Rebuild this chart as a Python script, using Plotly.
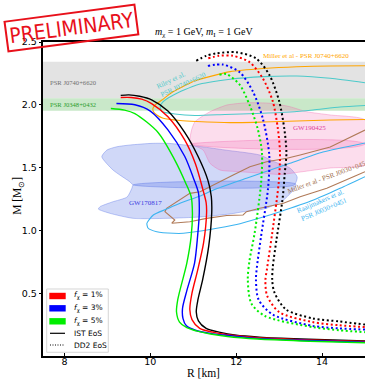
import plotly.graph_objects as go

# ---------------- data ----------------
R_RANGE = [7.5, 15.0]
M_RANGE = [0.0, 2.5]
x_ticks = [8, 10, 12, 14]
y_ticks = [0.5, 1.0, 1.5, 2.0, 2.5]
y_tick_labels = ["0.5", "1.0", "1.5", "2.0", "2.5"]

# IST EoS (solid), f_chi = 0 (black), 1 %, 3 %, 5 %
ist_f0_R = [9.31, 9.50, 9.75, 10.03, 10.41, 10.80, 11.11, 11.34, 11.42, 11.43, 11.36, 11.22, 11.11, 11.07, 11.12, 11.30, 11.60, 12.00, 12.54, 13.50, 15.00]
ist_f0_M = [2.075, 2.079, 2.068, 2.040, 1.950, 1.780, 1.590, 1.400, 1.270, 1.140, 0.875, 0.610, 0.450, 0.350, 0.280, 0.220, 0.190, 0.165, 0.150, 0.135, 0.120]
ist_f1_R = [9.31, 9.55, 9.80, 10.03, 10.41, 10.80, 11.05, 11.22, 11.30, 11.31, 11.24, 11.10, 10.97, 10.92, 10.97, 11.15, 11.45, 11.90, 12.50, 13.50, 15.00]
ist_f1_M = [2.058, 2.058, 2.045, 2.010, 1.905, 1.720, 1.530, 1.330, 1.220, 1.140, 0.900, 0.680, 0.500, 0.370, 0.290, 0.220, 0.190, 0.165, 0.145, 0.130, 0.115]
ist_f3_R = [9.21, 9.64, 10.00, 10.41, 10.80, 11.00, 11.12, 11.14, 11.10, 11.03, 10.85, 10.75, 10.76, 10.84, 11.05, 11.40, 11.90, 12.50, 13.50, 15.00]
ist_f3_M = [2.010, 2.000, 1.950, 1.800, 1.590, 1.420, 1.300, 1.140, 0.950, 0.740, 0.520, 0.380, 0.300, 0.240, 0.205, 0.180, 0.160, 0.140, 0.125, 0.110]
ist_f5_R = [9.08, 9.40, 9.64, 10.18, 10.57, 10.82, 10.95, 10.98, 10.95, 10.85, 10.64, 10.61, 10.68, 10.85, 11.07, 11.40, 11.80, 12.50, 13.50, 15.00]
ist_f5_M = [1.970, 1.958, 1.930, 1.780, 1.560, 1.380, 1.270, 1.140, 0.950, 0.740, 0.450, 0.350, 0.270, 0.225, 0.200, 0.175, 0.155, 0.135, 0.120, 0.105]

# DD2 EoS (dotted)
dd2_f0_R = [11.07, 11.30, 11.54, 12.00, 12.46, 12.77, 13.00, 13.12, 13.17, 13.13, 13.08, 12.94, 12.85, 12.84, 12.89, 13.16, 13.78, 14.40, 15.00]
dd2_f0_M = [2.350, 2.390, 2.410, 2.418, 2.370, 2.240, 2.030, 1.810, 1.620, 1.450, 1.250, 0.930, 0.700, 0.600, 0.506, 0.370, 0.300, 0.275, 0.250]
dd2_f1_R = [11.35, 11.60, 11.92, 12.31, 12.62, 12.85, 12.97, 13.02, 12.99, 12.84, 12.72, 12.68, 12.72, 13.00, 13.78, 14.40, 15.00]
dd2_f1_M = [2.370, 2.390, 2.390, 2.340, 2.210, 2.030, 1.810, 1.620, 1.380, 0.980, 0.700, 0.600, 0.480, 0.350, 0.270, 0.245, 0.230]
dd2_f3_R = [11.34, 11.69, 12.08, 12.39, 12.62, 12.77, 12.74, 12.58, 12.48, 12.46, 12.52, 12.85, 13.78, 14.40, 15.00]
dd2_f3_M = [2.310, 2.320, 2.260, 2.105, 1.890, 1.600, 1.330, 0.955, 0.700, 0.610, 0.450, 0.330, 0.240, 0.220, 0.210]
dd2_f5_R = [11.61, 11.77, 12.08, 12.31, 12.50, 12.60, 12.58, 12.43, 12.31, 12.27, 12.35, 12.66, 13.78, 14.40, 15.00]
dd2_f5_M = [2.240, 2.245, 2.160, 2.000, 1.810, 1.620, 1.380, 0.980, 0.760, 0.610, 0.420, 0.320, 0.230, 0.205, 0.190]

# pulsar mass bands [M_low, M_high]
psr_j0740_band = [2.052, 2.343]
psr_j0348_band = [1.953, 2.052]

# GW170817 (two component masses)
gw170817_m1_R = [9.60, 9.53, 9.13, 8.87, 8.99, 9.22, 9.53, 10.04, 10.41, 10.81, 11.20, 11.74, 12.55, 12.90, 13.25, 13.42, 13.35]
gw170817_m1_M = [1.362, 1.385, 1.481, 1.587, 1.640, 1.666, 1.680, 1.693, 1.693, 1.680, 1.666, 1.640, 1.600, 1.545, 1.497, 1.425, 1.362]
gw170817_m2_R = [9.60, 9.57, 9.46, 9.11, 8.83, 8.79, 9.06, 9.60, 10.39, 11.16, 11.86, 12.17, 12.52, 12.72, 13.10, 13.33, 13.39]
gw170817_m2_M = [1.362, 1.335, 1.266, 1.226, 1.189, 1.170, 1.136, 1.096, 1.096, 1.107, 1.131, 1.149, 1.162, 1.178, 1.242, 1.322, 1.369]

# GW190425 (two component masses)
gw190425_m1_R = [11.04, 11.39, 11.78, 12.09, 12.32, 12.79, 13.25, 13.64, 14.19, 15.00, 15.00, 10.94, 10.92, 10.96]
gw190425_m1_M = [1.865, 1.945, 1.998, 2.012, 2.017, 2.012, 1.985, 1.945, 1.919, 1.879, 1.688, 1.688, 1.720, 1.799]
gw190425_m2_R = [10.94, 15.00, 15.00, 14.19, 13.49, 13.02, 12.63, 12.09, 11.62, 11.39, 11.23, 11.04]
gw190425_m2_M = [1.688, 1.688, 1.521, 1.497, 1.465, 1.445, 1.455, 1.467, 1.481, 1.534, 1.640, 1.672]

# NICER contours
miller_j0740_R = [15.00, 14.19, 13.41, 12.63, 11.86, 11.06, 10.74, 10.50, 10.27, 10.11, 10.06, 10.07, 10.15, 10.30, 10.69, 11.08, 11.86, 12.63, 13.41, 14.19, 15.00]
miller_j0740_M = [2.311, 2.309, 2.303, 2.289, 2.264, 2.193, 2.142, 2.098, 2.038, 1.998, 1.972, 1.947, 1.919, 1.893, 1.875, 1.867, 1.858, 1.863, 1.871, 1.879, 1.883]
riley_j0740_R = [15.00, 14.19, 13.41, 12.63, 11.86, 11.08, 10.54, 10.30, 10.23, 10.27, 10.57, 11.04, 11.74, 12.48, 13.25, 13.79, 14.42, 15.00]
riley_j0740_M = [2.176, 2.211, 2.229, 2.224, 2.203, 2.158, 2.078, 2.025, 1.985, 1.947, 1.927, 1.915, 1.923, 1.931, 1.943, 1.959, 1.982, 1.994]
miller_j0030_R = [15.00, 14.19, 13.49, 13.18, 12.71, 12.32, 11.93, 11.16, 10.92, 10.38, 10.34, 10.57, 10.50, 10.92, 11.31, 11.78, 12.16, 12.24, 12.55, 13.10, 13.49, 14.11, 14.73, 15.00]
miller_j0030_M = [1.799, 1.664, 1.600, 1.574, 1.547, 1.507, 1.441, 1.308, 1.295, 1.176, 1.149, 1.083, 1.057, 1.069, 1.096, 1.119, 1.123, 1.149, 1.176, 1.216, 1.268, 1.335, 1.428, 1.467]
raaij_j0030_R = [15.00, 14.02, 13.25, 12.24, 11.47, 11.16, 10.69, 10.38, 10.07, 9.92, 9.95, 10.15, 10.54, 10.77, 11.39, 12.01, 12.55, 13.02, 13.80, 14.42, 15.00]
raaij_j0030_M = [1.696, 1.624, 1.534, 1.415, 1.322, 1.274, 1.216, 1.170, 1.123, 1.057, 1.017, 0.990, 0.977, 0.977, 1.007, 1.047, 1.099, 1.149, 1.242, 1.335, 1.428]

legend_labels = ["<i>f</i><sub>χ</sub> = 1%", "<i>f</i><sub>χ</sub> = 3%", "<i>f</i><sub>χ</sub> = 5%", "IST EoS", "DD2 EoS"]

# ---------------- figure ----------------
RED, BLUE, GREEN, BLACK = "#ff0000", "#0000ff", "#00ee00", "#000000"
SERIF = "Liberation Serif, Times New Roman, serif"
SANS = "DejaVu Sans, sans-serif"

fig = go.Figure()

for b, col in [(psr_j0740_band, "#e3e3e3"), (psr_j0348_band, "#c9e8c9")]:
    fig.add_shape(type="rect", xref="paper", x0=0, x1=1, yref="y", y0=b[0], y1=b[1],
                  fillcolor=col, line=dict(width=0), layer="below")


def region(R, M, fillc, linec):
    fig.add_trace(go.Scatter(x=R + [R[0]], y=M + [M[0]], mode="lines", fill="toself",
                             fillcolor=fillc, line=dict(color=linec, width=0.8, shape="spline", smoothing=0.6),
                             hoverinfo="skip", showlegend=False))


region(gw170817_m1_R, gw170817_m1_M, "rgba(80,110,230,0.27)", "rgba(80,110,230,0.45)")
region(gw170817_m2_R, gw170817_m2_M, "rgba(80,110,230,0.27)", "rgba(80,110,230,0.45)")
region(gw190425_m1_R, gw190425_m1_M, "rgba(240,100,175,0.22)", "rgba(240,100,175,0.45)")
region(gw190425_m2_R, gw190425_m2_M, "rgba(240,100,175,0.22)", "rgba(240,100,175,0.45)")


def contour(R, M, col, shape="spline"):
    fig.add_trace(go.Scatter(x=R, y=M, mode="lines", line=dict(color=col, width=1.1, shape=shape, smoothing=0.6),
                             hoverinfo="skip", showlegend=False))


contour(miller_j0740_R, miller_j0740_M, "#ffa500")
contour(riley_j0740_R, riley_j0740_M, "#4ccaca")
contour(miller_j0030_R, miller_j0030_M, "#b07a58", shape="linear")
contour(raaij_j0030_R, raaij_j0030_M, "#3cb4f0")

for R, M, col in [(ist_f0_R, ist_f0_M, BLACK), (ist_f1_R, ist_f1_M, RED),
                  (ist_f3_R, ist_f3_M, BLUE), (ist_f5_R, ist_f5_M, GREEN)]:
    fig.add_trace(go.Scatter(x=R, y=M, mode="lines", line=dict(color=col, width=1.4, shape="spline", smoothing=0.8),
                             hoverinfo="skip", showlegend=False))
for R, M, col in [(dd2_f0_R, dd2_f0_M, BLACK), (dd2_f1_R, dd2_f1_M, RED),
                  (dd2_f3_R, dd2_f3_M, BLUE), (dd2_f5_R, dd2_f5_M, GREEN)]:
    fig.add_trace(go.Scatter(x=R, y=M, mode="lines", line=dict(color=col, width=2, dash="2px,2.6px", shape="spline", smoothing=0.8),
                             hoverinfo="skip", showlegend=False))

ann = []


def label(text, x, y, col, size=7, angle=0, align="center", xanchor="center"):
    ann.append(dict(text=text, x=x, y=y, xref="x", yref="y", showarrow=False, textangle=angle,
                    font=dict(family=SERIF, size=size, color=col), align=align, xanchor=xanchor, yanchor="middle"))


label("PSR J0740+6620", 7.61, 2.18, "#707070", 6.6, xanchor="left")
label("PSR J0348+0432", 7.61, 2.006, "#2e9e2e", 6.6, xanchor="left")
label("Miller et al - PSR J0740+6620", 13.62, 2.389, "#ffa500", 7)
label("Riley et al.<br>PSR J0740+6620", 10.73, 2.19, "#4ccaca", 7, angle=-25, align="left")
label("GW190425", 13.70, 1.815, "#e0409a", 7)
label("GW170817", 9.876, 1.218, "#3a3ae0", 7)
label("Miller et al - PSR J0030+0451", 14.13, 1.429, "#a0704f", 7, angle=-20)
label("Raaijmakers et al.<br>PSR J0030+0451", 14.0, 1.20, "#3cb4f0", 7, angle=-23)

# title and axis titles
ann.append(dict(text="<i>m</i><sub>χ</sub> = 1 GeV, <i>m</i><sub>I</sub> = 1 GeV", x=0.5, y=1, xref="paper", yref="paper",
                xanchor="center", yanchor="bottom", yshift=1, showarrow=False, font=dict(family=SERIF, size=10, color="black")))
ann.append(dict(text="R [km]", x=0.497, y=0, xref="paper", yref="paper", xanchor="center", yanchor="middle", yshift=-17,
                showarrow=False, font=dict(family=SERIF, size=11.5, color="black")))
ann.append(dict(text="M [M<sub>⊙</sub>]", x=0, y=0.51, xref="paper", yref="paper", xanchor="center", yanchor="middle", xshift=-25,
                textangle=-90, showarrow=False, font=dict(family=SERIF, size=11.5, color="black")))

# stamp
ann.append(dict(text="PRELIMINARY", x=0.090, y=1.043, xref="paper", yref="paper", showarrow=False,
                xanchor="center", yanchor="middle", textangle=-7.5,
                font=dict(family="Liberation Sans Narrow, DejaVu Sans Condensed, Liberation Sans", size=21, color="#e8101a"),
                bordercolor="#e8101a", borderwidth=2, borderpad=2))

# manual legend
fig.add_shape(type="rect", xref="paper", yref="paper", x0=0.0115, x1=0.2028, y0=0.0118, y1=0.2134,
              fillcolor="rgba(255,255,255,0.85)", line=dict(color="#cccccc", width=0.8))
rows = [0.1911, 0.1519, 0.1105, 0.0723, 0.035]
for yy, col in zip(rows[:3], [RED, BLUE, GREEN]):
    fig.add_shape(type="rect", xref="paper", yref="paper", x0=0.0196, x1=0.0705, y0=yy - 0.0102, y1=yy + 0.0102,
                  fillcolor=col, line=dict(width=0))
fig.add_shape(type="line", xref="paper", yref="paper", x0=0.0217, x1=0.0683, y0=rows[3], y1=rows[3],
              line=dict(color="black", width=1.2))
fig.add_shape(type="line", xref="paper", yref="paper", x0=0.0217, x1=0.0683, y0=rows[4], y1=rows[4],
              line=dict(color="black", width=1.2, dash="1px,1.5px"))
for yy, t in zip(rows, legend_labels):
    ann.append(dict(text=t, x=0.0891, y=yy, xref="paper", yref="paper", xanchor="left", yanchor="middle",
                    showarrow=False, font=dict(family=SANS, size=7.5, color="black")))

fig.update_layout(
    width=365, height=379, margin=dict(l=43, r=0, t=42, b=23),
    paper_bgcolor="white", plot_bgcolor="white", showlegend=False,
    annotations=ann,
    xaxis=dict(range=R_RANGE, tickvals=x_ticks, ticks="inside", ticklen=3, tickwidth=1, tickcolor="black",
               ticklabelstandoff=-4,
               showline=True, linewidth=1.5, linecolor="black", mirror=True, showgrid=False, zeroline=False,
               tickfont=dict(family=SANS, size=9.5, color="black")),
    yaxis=dict(range=M_RANGE, tickvals=y_ticks, ticktext=y_tick_labels, ticks="outside", ticklen=2.5, tickwidth=1,
               tickcolor="black", showline=True, linewidth=1.5, linecolor="black", showgrid=False, zeroline=False,
               tickfont=dict(family=SANS, size=9.5, color="black")),
)

fig.write_html("out.html")
